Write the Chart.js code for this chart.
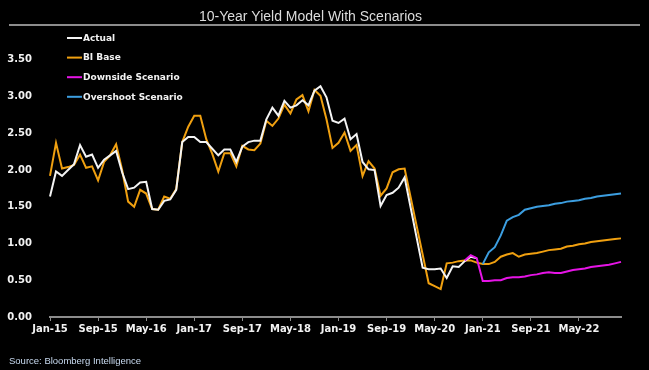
<!DOCTYPE html>
<html>
<head>
<meta charset="utf-8">
<script src="https://cdn.jsdelivr.net/npm/chart.js@4.4.1/dist/chart.umd.min.js"></script>
<style>
  html, body { margin: 0; padding: 0; background: #000; }
  #chart { display: block; }
</style>
</head>
<body>
<canvas id="chart" width="649" height="370"></canvas>
<script>
// monthly categories, Jan-15 .. Dec-22
const monthNames = ["Jan", "Feb", "Mar", "Apr", "May", "Jun", "Jul", "Aug", "Sep", "Oct", "Nov", "Dec"];
const years = ["15", "16", "17", "18", "19", "20", "21", "22"];
const months = [];
years.forEach(y => monthNames.forEach(m => months.push(m + "-" + y)));

const yTicks = [0, 0.5, 1, 1.5, 2, 2.5, 3, 3.5];

const actual = [
  1.64, 1.98, 1.92, 2.00, 2.08, 2.34, 2.18, 2.21, 2.03, 2.14, 2.20, 2.26,
  1.97, 1.74, 1.76, 1.83, 1.84, 1.47, 1.46, 1.58, 1.60, 1.73, 2.38, 2.45,
  2.45, 2.38, 2.38, 2.29, 2.20, 2.28, 2.28, 2.11, 2.32, 2.38, 2.40, 2.40,
  2.69, 2.85, 2.74, 2.94, 2.85, 2.88, 2.95, 2.88, 3.08, 3.14, 2.99, 2.67,
  2.64, 2.70, 2.42, 2.49, 2.11, 2.01, 2.00, 1.51, 1.66, 1.69, 1.76, 1.90,
  1.49, 1.08, 0.67, 0.65, 0.65, 0.66, 0.53, 0.69, 0.68, 0.76, 0.82, 0.80
];

const biBase = [
  1.92, 2.37, 2.02, 2.04, 2.07, 2.21, 2.03, 2.05, 1.86, 2.11, 2.20, 2.35,
  2.00, 1.57, 1.50, 1.73, 1.68, 1.47, 1.46, 1.64, 1.61, 1.74, 2.38, 2.59,
  2.74, 2.74, 2.42, 2.22, 1.98, 2.23, 2.23, 2.05, 2.33, 2.28, 2.27, 2.36,
  2.67, 2.60, 2.70, 2.89, 2.77, 2.96, 3.02, 2.80, 3.09, 3.01, 2.69, 2.30,
  2.37, 2.51, 2.26, 2.34, 1.92, 2.12, 2.02, 1.65, 1.75, 1.97, 2.01, 2.02,
  1.63, 1.24, 0.85, 0.46, 0.42, 0.38, 0.73, 0.74, 0.76, 0.77, 0.77, 0.74,
  0.72, 0.72, 0.75, 0.82, 0.85, 0.87, 0.82, 0.85, 0.86, 0.87, 0.89, 0.91,
  0.92, 0.93, 0.96, 0.97, 0.99, 1.00, 1.02, 1.03, 1.04, 1.05, 1.06, 1.07
];

// scenarios start late in the series (index = month from Jan-15)
const downsideStart = 69;
const downside = [
  0.77, 0.84, 0.80, 0.49, 0.49, 0.50, 0.50, 0.53, 0.54, 0.54, 0.55, 0.57,
  0.58, 0.60, 0.61, 0.60, 0.60, 0.62, 0.64, 0.65, 0.66, 0.68, 0.69, 0.70,
  0.71, 0.73, 0.75
];

const overshootStart = 72;
const overshoot = [
  0.72, 0.88, 0.95, 1.11, 1.31, 1.36, 1.39, 1.46, 1.48, 1.50, 1.51, 1.52,
  1.54, 1.55, 1.57, 1.58, 1.59, 1.61, 1.62, 1.64, 1.65, 1.66, 1.67, 1.68
];

const pad = (start, vals) => Array(start).fill(null).concat(vals);

const decorations = {
  id: "decorations",
  afterDraw(chart) {
    const ctx = chart.ctx;
    ctx.save();
    // rule under the title
    ctx.strokeStyle = "#8c8c8c";
    ctx.lineWidth = 2;
    ctx.beginPath();
    ctx.moveTo(9, 25);
    ctx.lineTo(640, 25);
    ctx.stroke();

    // legend, stacked in the top-left corner
    ctx.font = 'bold 9px "DejaVu Sans"';
    ctx.textBaseline = "middle";
    chart.data.datasets.forEach((ds, k) => {
      const y = 38 + k * 19.6;
      ctx.strokeStyle = ds.borderColor;
      ctx.lineWidth = 2;
      ctx.beginPath();
      ctx.moveTo(67, y);
      ctx.lineTo(82, y);
      ctx.stroke();
      ctx.fillStyle = "#f2f2f2";
      ctx.fillText(ds.label, 83, y + 0.5);
    });

    // source line
    ctx.font = '9.5px "Liberation Sans"';
    ctx.fillStyle = "#c8daf0";
    ctx.fillText("Source: Bloomberg Intelligence", 9, 361);
    ctx.restore();
  }
};

new Chart(document.getElementById("chart"), {
  type: "line",
  data: {
    labels: months,
    datasets: [
      {
        label: "Actual",
        data: actual,
        borderColor: "#f4f4f4",
        order: 2
      },
      {
        label: "BI Base",
        data: biBase,
        borderColor: "#f0a010",
        order: 3
      },
      {
        label: "Downside Scenario",
        data: pad(downsideStart, downside),
        borderColor: "#e614e6",
        order: 0
      },
      {
        label: "Overshoot Scenario",
        data: pad(overshootStart, overshoot),
        borderColor: "#3c9ee0",
        order: 1
      }
    ]
  },
  options: {
    responsive: false,
    animation: false,
    layout: { padding: { left: 0, right: 28, top: 0, bottom: 29 } },
    elements: {
      line: { borderWidth: 2, tension: 0 },
      point: { radius: 0 }
    },
    plugins: {
      legend: { display: false },
      tooltip: { enabled: false },
      title: {
        display: true,
        text: "10-Year Yield Model With Scenarios",
        color: "#dcdcdc",
        font: { family: "Liberation Sans", size: 14, weight: "normal" },
        padding: { top: 9, bottom: 34 }
      }
    },
    scales: {
      x: {
        offset: false,
        grid: {
          drawOnChartArea: false,
          tickLength: 4,
          color: c => (c.index % 8 === 0 ? "#8c8c8c" : "rgba(0,0,0,0)")
        },
        border: { color: "#8c8c8c", width: 2 },
        ticks: {
          autoSkip: false,
          maxRotation: 0,
          padding: 2,
          color: "#f2f2f2",
          font: { family: "DejaVu Sans", size: 10, weight: "bold" },
          callback: (v, i) => (i % 8 === 0 ? months[i] : "")
        },
        afterFit: s => { s.height = 24; }
      },
      y: {
        min: yTicks[0],
        max: yTicks[yTicks.length - 1],
        grid: { display: false },
        border: { display: false },
        afterBuildTicks: s => { s.ticks = yTicks.map(v => ({ value: v })); },
        ticks: {
          padding: 10,
          color: "#f2f2f2",
          font: { family: "DejaVu Sans", size: 10, weight: "bold" },
          callback: v => v.toFixed(2)
        },
        afterFit: s => { s.width = 50; }
      }
    }
  },
  plugins: [decorations]
});
</script>
</body>
</html>
